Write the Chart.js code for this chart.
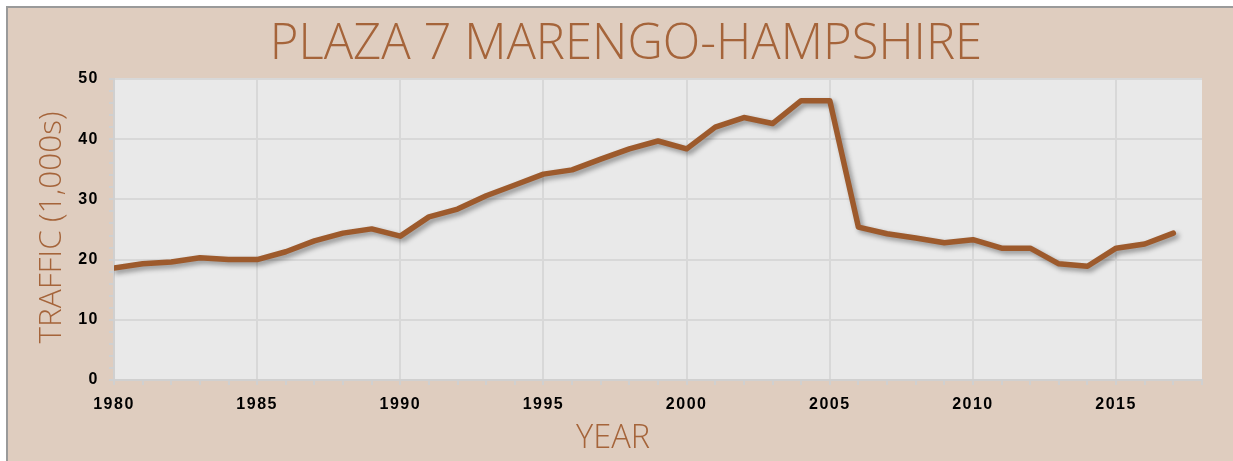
<!DOCTYPE html>
<html>
<head>
<meta charset="utf-8">
<script src="https://cdn.jsdelivr.net/npm/chart.js@4/dist/chart.umd.min.js"></script>
<style>
  html, body { margin: 0; padding: 0; background: #ffffff; width: 1233px; height: 461px; overflow: hidden; }
  #frame { position: absolute; left: 6px; top: 6px; width: 1227px; height: 455px;
           border-top: 2px solid #9a9a9a; border-left: 2px solid #9a9a9a; background: #dfcdbf; }
  #wrap { position: absolute; left: 0; top: 0; width: 1225px; height: 453px; }
</style>
</head>
<body>
<div id="frame"><div id="wrap"><canvas id="c"></canvas></div></div>
<script>
// ---- data ----
const chartTitle = 'PLAZA 7 MARENGO-HAMPSHIRE';
const xAxisTitle = 'YEAR';
const yAxisTitle = 'TRAFFIC (1,000s)';
const years = [1980,1981,1982,1983,1984,1985,1986,1987,1988,1989,
               1990,1991,1992,1993,1994,1995,1996,1997,1998,1999,
               2000,2001,2002,2003,2004,2005,2006,2007,2008,2009,
               2010,2011,2012,2013,2014,2015,2016,2017];
const traffic = [18.6,19.3,19.6,20.3,20.0,20.0,21.3,23.1,24.4,25.1,
                 23.9,27.1,28.4,30.6,32.4,34.2,34.9,36.7,38.4,39.7,
                 38.4,42.0,43.6,42.6,46.4,46.4,25.4,24.3,23.6,22.8,
                 23.3,21.9,21.9,19.3,18.9,21.9,22.6,24.4];
const xTickLabels = [1980,1985,1990,1995,2000,2005,2010,2015];
const yTickLabels = [0,10,20,30,40,50];

const BROWN = '#9d5a2c';
const TITLE_BROWN = '#a5643a';

const plotBg = {
  id: 'plotBg',
  beforeInit(chart) { chart.ctx.letterSpacing = '1.5px'; },
  beforeDraw(chart) {
    const {ctx, chartArea: a} = chart;
    ctx.letterSpacing = '1.5px';
    ctx.save();
    ctx.fillStyle = '#e9e9e9';
    ctx.fillRect(a.left, a.top, a.right - a.left, a.bottom - a.top);
    ctx.restore();
  }
};
const lineShadow = {
  id: 'lineShadow',
  beforeDatasetsDraw(chart) {
    const ctx = chart.ctx;
    ctx.save();
    ctx.shadowColor = 'rgba(0,0,0,0.38)';
    ctx.shadowBlur = 5;
    ctx.shadowOffsetX = 3;
    ctx.shadowOffsetY = 3;
  },
  afterDatasetsDraw(chart) { chart.ctx.restore(); }
};
const titles = {
  id: 'titles',
  afterDraw(chart) {
    const ctx = chart.ctx;
    const a = chart.chartArea;
    ctx.save();
    ctx.letterSpacing = '0px';
    ctx.fillStyle = TITLE_BROWN;
    ctx.textAlign = 'center';
    ctx.textBaseline = 'alphabetic';
    ctx.font = '300 49px "Open Sans"';
    ctx.fillText(chartTitle, 618, 51);
    ctx.font = '300 32.5px "Open Sans"';
    ctx.fillText(xAxisTitle, 605, 440);
    // y-axis title, rotated
    ctx.translate(53, (a.top + a.bottom) / 2 - 2);
    ctx.rotate(-Math.PI / 2);
    ctx.font = '300 31.5px "Open Sans"';
    ctx.fillText(yAxisTitle, 0, 0);
    ctx.restore();
  }
};

const tickFont = { family: '"Liberation Sans", Arial, sans-serif', size: 16, weight: 'bold' };

new Chart(document.getElementById('c'), {
  type: 'line',
  data: {
    datasets: [{
      data: years.map((y, i) => ({ x: y, y: traffic[i] })),
      borderColor: BROWN,
      borderWidth: 5.5,
      borderJoinStyle: 'round',
      borderCapStyle: 'round',
      pointRadius: 0,
      tension: 0,
      fill: false
    }]
  },
  options: {
    responsive: true,
    maintainAspectRatio: false,
    animation: false,
    layout: { padding: { top: 71, right: 31, left: 0, bottom: 0 } },
    plugins: { legend: { display: false }, tooltip: { enabled: false }, title: { display: false } },
    scales: {
      x: {
        type: 'linear',
        min: 1980, max: 2018,
        afterBuildTicks(s) { s.ticks = []; for (let v = 1980; v <= 2018; v++) s.ticks.push({ value: v }); },
        afterFit(s) { s.height = 81; },
        grid: {
          color: c => (c.tick && xTickLabels.includes(c.tick.value)) ? '#d8d8d8' : 'rgba(0,0,0,0)',
          lineWidth: 2,
          tickColor: '#d0d0d0',
          tickLength: 5,
          drawTicks: true
        },
        border: { display: true, color: '#d0d0d0', width: 2 },
        ticks: {
          autoSkip: false, maxRotation: 0, minRotation: 0,
          padding: 10,
          color: '#000',
          font: tickFont,
          callback: v => xTickLabels.includes(v) ? String(v) : ''
        }
      },
      y: {
        min: 0, max: 50,
        afterBuildTicks(s) { s.ticks = []; for (let v = 0; v <= 50; v += 2) s.ticks.push({ value: v }); },
        afterFit(s) { s.width = 106; },
        grid: {
          color: c => (c.tick && yTickLabels.includes(c.tick.value)) ? '#d8d8d8' : 'rgba(0,0,0,0)',
          lineWidth: 2,
          tickColor: '#d0d0d0',
          tickLength: 5
        },
        border: { display: true, color: '#d0d0d0', width: 2 },
        ticks: {
          autoSkip: false,
          padding: 10,
          color: '#000',
          font: tickFont,
          callback: v => yTickLabels.includes(v) ? String(v) : ''
        },
        title: { display: false }
      }
    }
  },
  plugins: [plotBg, lineShadow, titles]
});
</script>
</body>
</html>
